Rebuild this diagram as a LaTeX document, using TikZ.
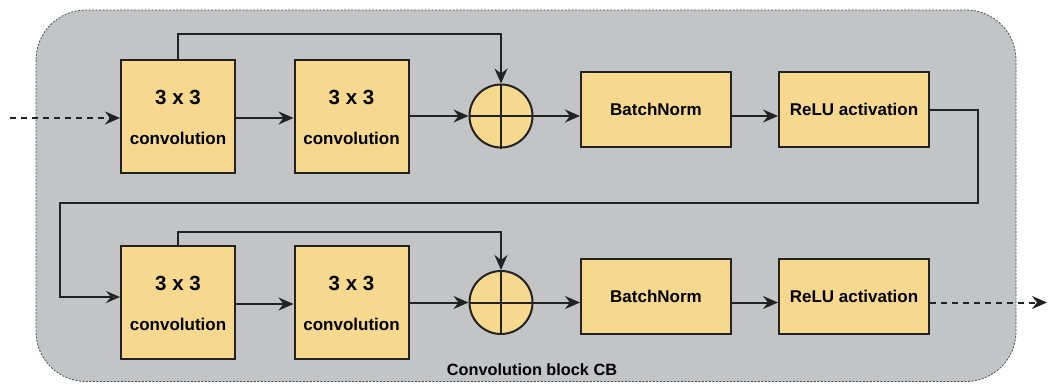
\documentclass[tikz,border=0pt]{standalone}
\usepackage{fontspec}
\setmainfont{Liberation Sans}
\usetikzlibrary{arrows.meta,calc}
\definecolor{boxfill}{RGB}{246,216,143}
\definecolor{bgfill}{RGB}{195,196,198}
\definecolor{edge}{RGB}{34,34,34}
\begin{document}
\begin{tikzpicture}[x=1pt,y=-1pt,
  box/.style={draw=edge, line width=2pt, fill=boxfill, inner sep=0pt},
  conv/.style={box, minimum width=114pt, minimum height=113pt},
  bnbox/.style={box, minimum width=150pt, minimum height=75pt, font=\bfseries\fontsize{17}{20}\selectfont},
  sum/.style={circle, draw=edge, line width=2pt, fill=boxfill, minimum size=63pt, inner sep=0pt},
  big/.style={font=\bfseries\fontsize{20.5}{24}\selectfont, anchor=base, inner sep=0pt},
  lab/.style={font=\bfseries\fontsize{17}{20}\selectfont, anchor=base, inner sep=0pt},
  arr/.style={-{Stealth[length=15pt,width=13pt,inset=5pt]}, line width=2pt, draw=edge},
  dasharr/.style={arr, dash pattern=on 6pt off 5pt},
  openarr/.style={-{Stealth[open,length=14pt,width=12pt,inset=5pt]}, line width=2pt, draw=edge},
  cross/.style={line width=2pt, draw=edge}
]
\useasboundingbox (0,0) rectangle (1048,383);
% container
\draw[fill=bgfill, draw=black!70, line width=0.8pt, dash pattern=on 2pt off 1.5pt, rounded corners=50pt] (36,10) rectangle (1016,381.5);
\node[font=\bfseries\fontsize{16.3}{19}\selectfont, anchor=base, inner sep=0pt] (title) at (532,375.5) {Convolution block CB};

% top row
\node[conv] (c1) at (178,116.5) {};
\node[big] (c1a) at (178,104.3) {3 x 3};
\node[lab] (c1b) at (178,144) {convolution};
\node[conv] (c2) at (351.5,116.5) {};
\node[big] (c2a) at (351.5,104.3) {3 x 3};
\node[lab] (c2b) at (351.5,144) {convolution};
\node[sum] (o1) at (501,116) {};
\draw[cross] (o1.north) -- (o1.south) (o1.west) -- (o1.east);
\node[bnbox] (bn1) at (656,109.5) {BatchNorm};
\node[bnbox] (r1) at (854,109.5) {ReLU activation};

% bottom row
\node[conv] (c3) at (178,302.5) {};
\node[big] (c3a) at (178,290.3) {3 x 3};
\node[lab] (c3b) at (178,330.5) {convolution};
\node[conv] (c4) at (351.5,302.5) {};
\node[big] (c4a) at (351.5,290.3) {3 x 3};
\node[lab] (c4b) at (351.5,330.5) {convolution};
\node[sum] (o2) at (501,302.5) {};
\draw[cross] (o2.north) -- (o2.south) (o2.west) -- (o2.east);
\node[bnbox] (bn2) at (656,296.5) {BatchNorm};
\node[bnbox] (r2) at (854,296.5) {ReLU activation};

% connectors top
\coordinate (in) at (10,118);
\draw[dasharr] (in) -- (in -| c1.west);
\draw[arr] (c1.east |- in) -- (c2.west |- in);
\draw[arr] (c2.east |- o1) -- (o1.west);
\draw[arr] (c1.north) -- ++(0,-25) -| (o1.north);
\draw[arr] (o1.east) -- (o1.east -| bn1.west);
\draw[arr] (bn1.east |- o1) -- (r1.west |- o1);

% wrap-around
\coordinate (wr) at (978,203);
\coordinate (wl) at (60,297);
\draw[openarr] (r1.east) -| (wr) -| (wl) -- (wl -| c3.west);

% connectors bottom
\coordinate (m2) at (0,304);
\draw[arr] (c3.east |- m2) -- (c4.west |- m2);
\draw[arr] (c4.east |- o2) -- (o2.west);
\draw[arr] (c3.north) -- ++(0,-13) -| (o2.north);
\draw[arr] (o2.east) -- (o2.east -| bn2.west);
\draw[arr] (bn2.east |- o2) -- (r2.west |- o2);
\coordinate (out) at (1047,302.5);
\draw[dasharr] (r2.east |- o2) -- (out);
\end{tikzpicture}
\end{document}
